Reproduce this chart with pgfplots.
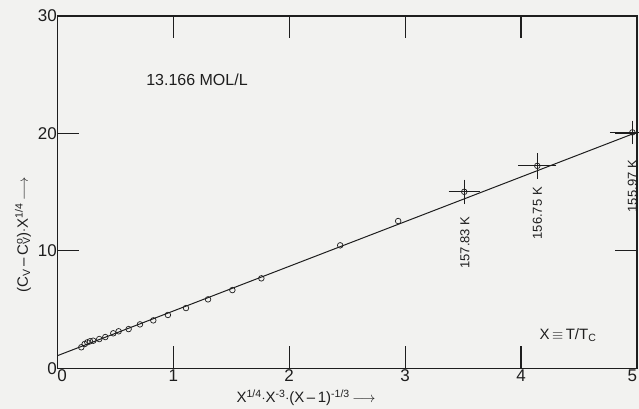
\documentclass[border=0pt]{standalone}
\usepackage{pgfplots}
\pgfplotsset{compat=1.18}
\usepackage{fontspec}
\setmainfont{Liberation Sans}
\definecolor{bg}{RGB}{242,242,240}
\definecolor{ink}{RGB}{30,30,30}
\begin{document}
\begin{tikzpicture}[x=1pt,y=1pt]
\fill[bg] (0,0) rectangle (639,409);
\begin{axis}[
  at={(57.3pt,40.7pt)}, anchor=south west,
  scale only axis, width=579.7pt, height=352.3pt,
  xmin=0, xmax=5, ymin=0, ymax=30,
  xtick={0,1,2,3,4,5}, ytick={0,10,20,30},
  xticklabels={\hphantom{0}0,1,2,3,4,5\hphantom{0}},
  tick align=inside, major tick length=22pt,
  tick pos=both, xticklabel pos=lower, yticklabel pos=left,
  axis line style={ink, line width=1.2pt},
  tick style={ink, line width=1.2pt},
  /pgf/number format/assume math mode=true,
  tick label style={font=\fontsize{17}{17}\selectfont, text=ink},
  xticklabel style={anchor=north, yshift=2pt},
  yticklabel style={anchor=east, xshift=3pt},
  clip=false,
]
\addplot[ink, line width=1pt, no marks] coordinates {(0,1.07) (5,20.1)};
\addplot[only marks, mark=o, mark size=2.8pt, mark options={ink, line width=0.7pt, fill=gray!40}] coordinates {
(0.207,1.79) (0.236,2.07) (0.259,2.21) (0.282,2.30) (0.31,2.35) (0.362,2.49)
(0.414,2.66) (0.483,2.98) (0.529,3.15) (0.615,3.34) (0.713,3.74) (0.828,4.08)
(0.954,4.54) (1.11,5.13) (1.30,5.87) (1.51,6.66) (1.76,7.66) (2.44,10.47) (2.94,12.54)
};
\addplot[only marks, mark=o, mark size=2.8pt, mark options={ink, line width=0.7pt},
  error bars/.cd, x dir=both, x explicit, y dir=both, y explicit,
  error bar style={ink, line width=1pt},
  error mark options={ink, line width=1pt, mark size=4pt}] coordinates {
(3.51,15.03) +- (0.10,0.70)
(4.14,17.24) +- (0.13,0.75)
(4.96,20.09) +- (0.16,0.67)
};
\node[rotate=90, font=\fontsize{13}{13}\selectfont, text=ink] at (axis cs:3.515,10.7) {157.83 K};
\node[rotate=90, font=\fontsize{13}{13}\selectfont, text=ink] at (axis cs:4.14,13.2) {156.75 K};
\node[rotate=90, font=\fontsize{13}{13}\selectfont, text=ink] at (axis cs:4.96,15.5) {155.97 K};
\end{axis}
\node[font=\fontsize{16}{16}\selectfont, text=ink] at (197,329) {13.166 MOL/L};
\node[font=\fontsize{15}{15}\selectfont, text=ink] at (568,74) {X\,$\equiv$\,T/T\textsubscript{C}};
\node[rotate=90, font=\fontsize{15}{15}\selectfont, text=ink] at (23,174) {(C\textsubscript{V}\,–\,C\rlap{\textsuperscript{o}}\textsubscript{V})$\cdot$X\textsuperscript{1/4}\,$\longrightarrow$};
\node[font=\fontsize{15}{15}\selectfont, text=ink] at (306,11) {X\textsuperscript{1/4}$\cdot$X\textsuperscript{-3}$\cdot$(X\,–\,1)\textsuperscript{-1/3}\,$\longrightarrow$};
\pgfresetboundingbox
\path[use as bounding box] (0,0) rectangle (639,409);
\end{tikzpicture}
\end{document}
